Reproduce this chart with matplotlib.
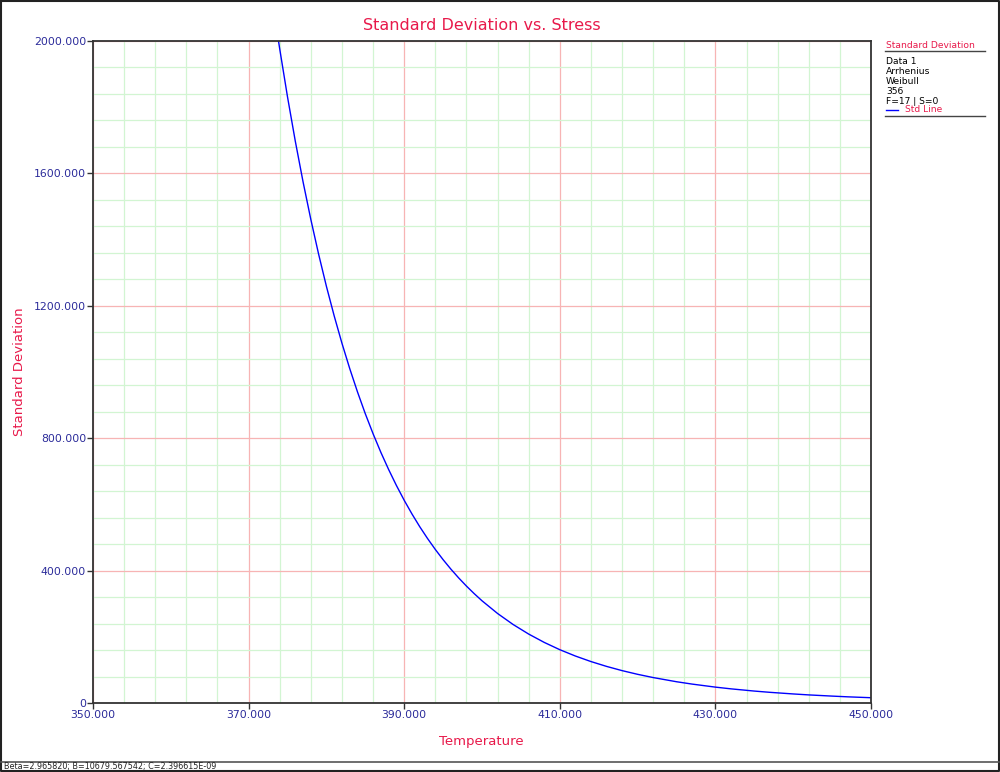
import matplotlib
matplotlib.use("Agg")
import matplotlib.pyplot as plt
import numpy as np
from matplotlib.ticker import FixedLocator, FuncFormatter
from matplotlib.lines import Line2D

# values
temperature = [373.8, 374, 375, 376, 377, 378, 379, 380, 381, 382, 383, 384, 385, 386, 387,
               388, 389, 390, 391, 392, 393, 394, 395, 396, 397, 398, 399, 400, 402, 404,
               406, 408, 410, 412, 414, 416, 418, 420, 422, 425, 427, 430, 432, 435, 437,
               440, 442, 445, 447, 450]
std_dev = [2006.6, 1976.0, 1831.3, 1697.6, 1574.4, 1460.7, 1355.9, 1258.9, 1169.5, 1086.7,
           1010.2, 939.5, 873.9, 813.4, 757.2, 705.3, 657.1, 612.4, 571.0, 532.5, 496.9,
           463.8, 433.0, 404.4, 377.9, 353.2, 330.3, 308.8, 270.4, 237.1, 208.2, 183.0,
           161.0, 141.9, 125.2, 110.6, 97.8, 86.6, 76.8, 64.2, 57.1, 47.9, 42.7, 36.0, 32.2,
           27.3, 24.4, 20.8, 18.6, 15.9]

x_major = [350, 370, 390, 410, 430, 450]
y_major = [0, 400, 800, 1200, 1600, 2000]

legend_lines = ["Data 1", "Arrhenius", "Weibull", "356", "F=17 | S=0"]
status_text = "Beta=2.965820; B=10679.567542; C=2.396615E-09"

crimson = "#E8194A"
navy = "#2B2B9A"

fig = plt.figure(figsize=(10, 7.72), dpi=100)
ax = fig.add_axes([0.093, 0.0894, 0.778, 0.8575])

ax.plot(temperature, std_dev, color="#0000FF", lw=1.0)

ax.set_xlim(350, 450)
ax.set_ylim(0, 2000)
ax.xaxis.set_major_locator(FixedLocator(x_major))
ax.xaxis.set_minor_locator(FixedLocator(np.arange(350, 451, 4)))
ax.yaxis.set_major_locator(FixedLocator(y_major))
ax.yaxis.set_minor_locator(FixedLocator(np.arange(0, 2001, 80)))
ax.grid(which="minor", color="#D2F5D2", lw=0.9)
ax.grid(which="major", color="#F7B4B4", lw=0.9)
ax.set_axisbelow(True)

ax.xaxis.set_major_formatter(FuncFormatter(lambda v, p: "%.3f" % v))
ax.yaxis.set_major_formatter(FuncFormatter(lambda v, p: "0" if v == 0 else "%.3f" % v))
ax.tick_params(which="major", length=4, width=1, colors="#333333", labelcolor=navy,
               labelsize=7.8, pad=1)
ax.tick_params(which="minor", length=0)
for s in ax.spines.values():
    s.set_color("#333333")
    s.set_linewidth(1.3)

ax.set_xlabel("Temperature", color=crimson, fontsize=9.5)
ax.set_ylabel("Standard Deviation", color=crimson, fontsize=9.5)
ax.xaxis.set_label_coords(0.499, -0.049)
ax.yaxis.set_label_coords(-0.086, 0.5)
fig.text(0.482, 1 - 25 / 772, "Standard Deviation vs. Stress", color=crimson,
         fontsize=11.5, ha="center", va="center")

# legend block on the right
fx = 886 / 1000
fig.text(fx, 1 - 45 / 772, "Standard Deviation", color=crimson, fontsize=6.6, va="center")
fig.add_artist(Line2D([0.885, 0.985], [1 - 51 / 772] * 2, color="#444444", lw=1))
for i, t in enumerate(legend_lines):
    fig.text(fx, 1 - (61 + 10 * i) / 772, t, color="black", fontsize=6.6, va="center")
ly = 1 - 110 / 772
fig.add_artist(Line2D([0.886, 0.898], [ly, ly], color="#0000FF", lw=1))
fig.text(0.905, ly, "Std Line", color=crimson, fontsize=6.6, va="center")
fig.add_artist(Line2D([0.885, 0.985], [1 - 116 / 772] * 2, color="#444444", lw=1))

# outer frame and status bar
fig.add_artist(Line2D([0.001, 0.999, 0.999, 0.001, 0.001],
                      [0.999, 0.999, 0.001, 0.001, 0.999], color="#222222", lw=1.5))
fig.add_artist(Line2D([0.001, 0.999], [1 - 762 / 772] * 2, color="#555555", lw=1.2))
fig.text(0.004, 1 - 766.5 / 772, status_text, color="#222222", fontsize=5.8, va="center")

fig.savefig("out.png", dpi=100)
